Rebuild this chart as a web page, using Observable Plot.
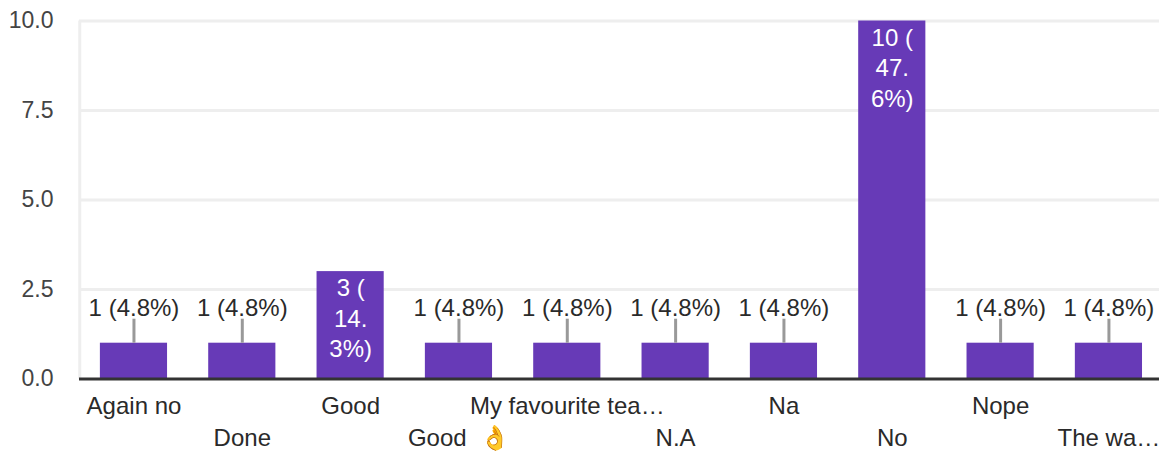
<!DOCTYPE html>
<html>
<head>
<meta charset="utf-8">
<script src="https://cdn.jsdelivr.net/npm/d3@7"></script>
<script src="https://cdn.jsdelivr.net/npm/@observablehq/plot@0.6"></script>
<style>html,body{margin:0;padding:0;background:#fff}svg{display:block}</style>
</head>
<body>
<div id="chart"></div>
<script>
const categories = ["Again no","Done","Good","Good  👌","My favourite tea…","N.A","Na","No","Nope","The wa…"];
const counts = [1,1,3,1,1,1,1,10,1,1];
const labels = ["1 (4.8%)","1 (4.8%)","3 (\n14.\n3%)","1 (4.8%)","1 (4.8%)","1 (4.8%)","1 (4.8%)","10 (\n47.\n6%)","1 (4.8%)","1 (4.8%)"];
const insideBar = [false,false,true,false,false,false,false,true,false,false];
const yTicks = [0,2.5,5,7.5,10];

const rows = categories.map((c,i)=>({c,v:counts[i],label:labels[i],inside:insideBar[i],row:i%2}));
const font = "'Liberation Sans', Arial, sans-serif";
const leader = 0.67;
const size = 24;

const plot = Plot.plot({
  width:1159, height:453,
  marginLeft:79, marginRight:0, marginTop:20.5, marginBottom:74.5,
  style:{fontFamily:font, fontSize:size+"px", background:"#fff"},
  x:{domain:categories, range:[79.3,1162.6], paddingInner:0.38, paddingOuter:0.19, round:false, axis:null},
  y:{domain:[0,10], axis:null},
  marks:[
    Plot.ruleY(yTicks.filter(t=>t>0),{stroke:"#eeeeee",strokeWidth:3}),
    Plot.ruleX([0],{x:()=>categories[0],dx:-54.2,y1:0,y2:10,stroke:"#eeeeee",strokeWidth:3}),
    Plot.axisY({ticks:yTicks,tickSize:0,tickPadding:26,tickFormat:d3.format(".1f"),label:null,fill:"#444",fontSize:23}),
    Plot.barY(rows,{x:"c",y:"v",fill:"#673ab7"}),
    Plot.ruleX(rows.filter(d=>!d.inside),{x:"c",y1:"v",y2:d=>d.v+leader,stroke:"#999",strokeWidth:3}),
    Plot.ruleY([0],{stroke:"#333",strokeWidth:3}),
    Plot.text(rows.filter(d=>!d.inside),{x:"c",y:"v",text:"label",dy:-35,fill:"#2a2a2a",fontSize:size}),
    Plot.text(rows.filter(d=>d.inside),{x:"c",y:"v",text:"label",lineAnchor:"top",lineHeight:1.27,dy:3,fill:"#fff",fontSize:size}),
    Plot.text(rows.filter(d=>d.row===0),{x:"c",y:()=>0,text:"c",dy:27,fill:"#2a2a2a",fontSize:size}),
    Plot.text(rows.filter(d=>d.row===1),{x:"c",y:()=>0,text:"c",dy:59,fill:"#2a2a2a",fontSize:size})
  ]
});
document.getElementById("chart").append(plot);
</script>
</body>
</html>
